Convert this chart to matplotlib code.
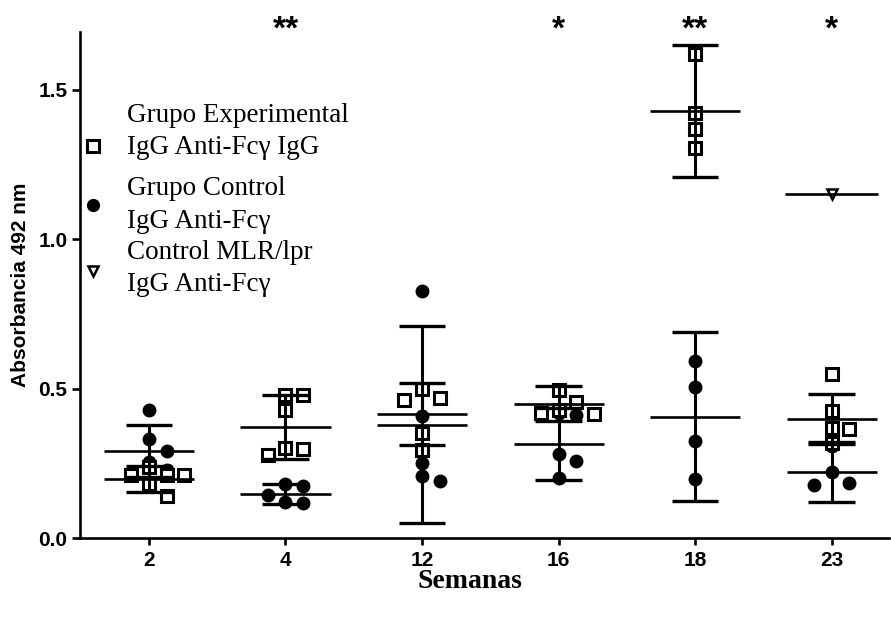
import matplotlib
matplotlib.use("Agg")
import matplotlib.pyplot as plt

# Weeks sampled
weeks = ["2", "4", "12", "16", "18", "23"]

# Individual absorbance readings per week
exp_values = [
    [0.238, 0.211, 0.211, 0.211, 0.181, 0.141],
    [0.480, 0.480, 0.430, 0.302, 0.299, 0.279],
    [0.500, 0.470, 0.463, 0.352, 0.295],
    [0.497, 0.456, 0.430, 0.419, 0.415],
    [1.621, 1.423, 1.369, 1.305],
    [0.550, 0.426, 0.369, 0.365, 0.319],
]
ctrl_values = [
    [0.430, 0.332, 0.292, 0.255, 0.228, 0.218],
    [0.181, 0.175, 0.144, 0.121, 0.117],
    [0.826, 0.409, 0.252, 0.208, 0.191],
    [0.419, 0.413, 0.282, 0.258, 0.201],
    [0.591, 0.507, 0.326, 0.198],
    [0.309, 0.221, 0.184, 0.178],
]
mlr_values = [[], [], [], [], [], [1.151]]

# Mean and SD per week
exp_mean = [0.198, 0.373, 0.416, 0.450, 1.430, 0.399]
exp_sd = [0.044, 0.107, 0.104, 0.058, 0.221, 0.084]
ctrl_mean = [0.292, 0.148, 0.379, 0.315, 0.406, 0.221]
ctrl_sd = [0.087, 0.034, 0.330, 0.120, 0.283, 0.100]
mlr_mean = [None, None, None, None, None, 1.151]

significance = ["", "**", "", "*", "**", "*"]

legend_labels = [
    "Grupo Experimental\nIgG Anti-Fc\u03b3 IgG",
    "Grupo Control\nIgG Anti-Fc\u03b3",
    "Control MLR/lpr\nIgG Anti-Fc\u03b3",
]

W, H = 891, 618
fig = plt.figure(figsize=(W / 100, H / 100), dpi=100)
ax = fig.add_axes([80 / W, 80 / H, 809 / W, 506 / H])
ax.set_xlim(-0.505, 5.42)
ax.set_ylim(0, 1.694)

SANS = "Liberation Sans"
SERIF = "Liberation Serif"


def swarm(values, center, step=0.13, diam=13.0):
    """Greedy dot-plot layout: spread points sideways so they don't overlap."""
    placed = []
    order = sorted(range(len(values)), key=lambda i: -values[i])
    out = [None] * len(values)
    for i in order:
        v = values[i]
        for k in [0, 1, -1, 2, -2, 3, -3]:
            x = center + k * step
            px, py = ax.transData.transform((x, v))
            ok = True
            for (qx, qy) in placed:
                if ((px - qx) ** 2 + (py - qy) ** 2) ** 0.5 < diam:
                    ok = False
                    break
            if ok:
                placed.append((px, py))
                out[i] = x
                break
    return out


lw = 1.9
for i in range(len(weeks)):
    # control points (filled circles)
    cx = swarm(ctrl_values[i], i)
    ax.plot(cx, ctrl_values[i], "o", ms=9, color="black", ls="none", zorder=2)
    # experimental points (open squares)
    ex = swarm(exp_values[i], i)
    ax.plot(ex, exp_values[i], "s", ms=8.5, mfc="white", mec="black",
            mew=2.2, ls="none", zorder=3)
    if mlr_values[i]:
        mx = swarm(mlr_values[i], i)
        ax.plot(mx, mlr_values[i], "v", ms=7, mfc="white", mec="black",
                mew=1.8, ls="none", zorder=3)

    # mean lines with SD bars
    for m, s in [(ctrl_mean[i], ctrl_sd[i]), (exp_mean[i], exp_sd[i])]:
        ax.hlines(m, i - 0.33, i + 0.33, color="black", lw=lw, zorder=4)
        ax.vlines(i, m - s, m + s, color="black", lw=2.2, zorder=4)
        ax.hlines([m - s, m + s], i - 0.17, i + 0.17, color="black",
                  lw=2.4, zorder=4)
    if mlr_mean[i] is not None:
        ax.hlines(mlr_mean[i], i - 0.34, i + 0.34, color="black", lw=lw,
                  zorder=4)

    if significance[i]:
        ax.text(i, 1.70, significance[i], ha="center", va="center",
                fontsize=24, fontweight="bold", family=SANS, clip_on=False)

# legend drawn as marker + two-line caption
leg_markers = [("s", 0.775, dict(ms=8, mfc="white", mec="black", mew=2.2)),
               ("o", 0.658, dict(ms=8.5, color="black")),
               ("v", 0.527, dict(ms=7, mfc="white", mec="black", mew=1.8))]
for (mk, fy, kw) in leg_markers:
    ax.plot([0.0155], [fy], mk, transform=ax.transAxes, clip_on=False,
            ls="none", **kw)
leg_text_y = [0.804, 0.658, 0.532]
for lab, fy in zip(legend_labels, leg_text_y):
    ax.text(0.058, fy, lab, transform=ax.transAxes, ha="left", va="center",
            fontsize=19.5, family=SERIF, linespacing=1.38)

ax.set_xticks(range(len(weeks)))
ax.set_xticklabels(weeks)
ax.set_yticks([0.0, 0.5, 1.0, 1.5])
ax.set_yticklabels(["0.0", "0.5", "1.0", "1.5"])
for lab in ax.get_xticklabels() + ax.get_yticklabels():
    lab.set_fontfamily(SANS)
    lab.set_fontweight("bold")
    lab.set_fontsize(15)

ax.spines["top"].set_visible(False)
ax.spines["right"].set_visible(False)
for sp in ("left", "bottom"):
    ax.spines[sp].set_linewidth(1.9)
ax.tick_params(axis="x", direction="out", length=5, width=1.9, pad=4)
ax.tick_params(axis="y", direction="out", length=6, width=1.9, pad=3)

ax.set_ylabel("Absorbancia 492 nm", family=SANS, fontweight="bold",
              fontsize=15, labelpad=6)
ax.set_xlabel("Semanas", family=SERIF, fontweight="bold", fontsize=20,
              labelpad=0)
ax.xaxis.label.set_x(0.482)

fig.savefig("out.png", dpi=100)
